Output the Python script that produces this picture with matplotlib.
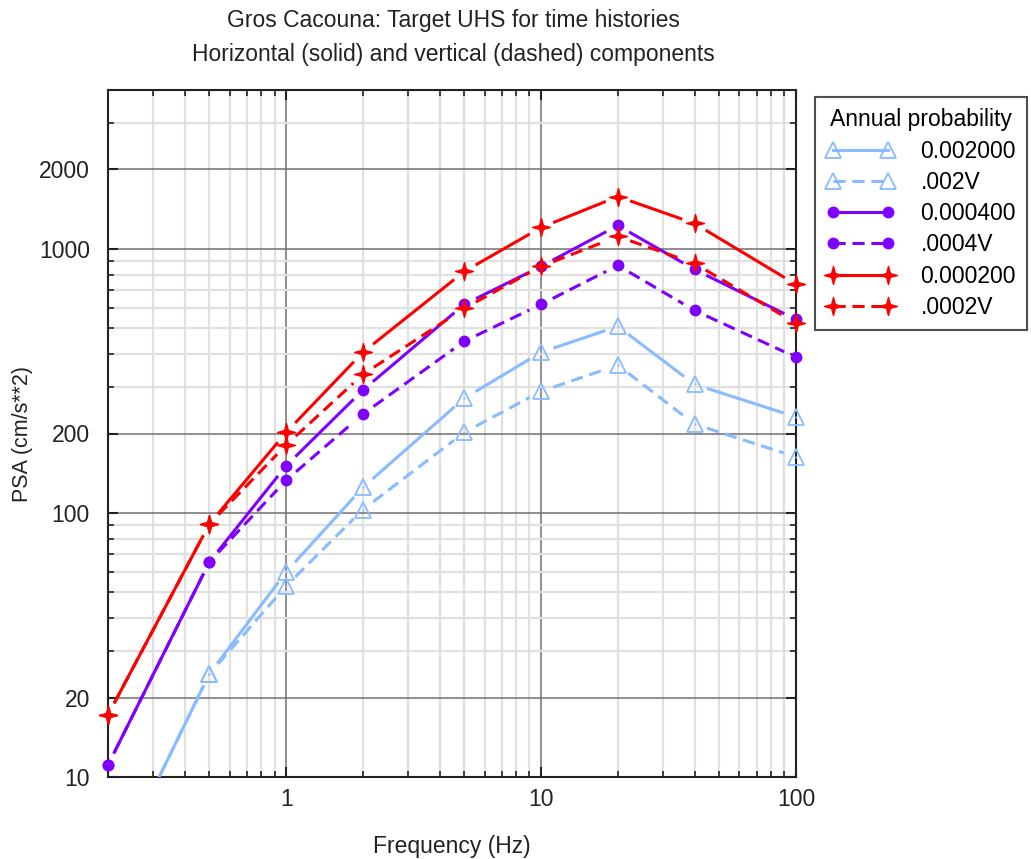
import numpy as np
import matplotlib
matplotlib.use("Agg")
from matplotlib import pyplot as plt
from matplotlib.lines import Line2D
from matplotlib.path import Path
from matplotlib.ticker import FixedLocator, NullFormatter

plt.rcParams['font.family'] = ['Liberation Sans', 'DejaVu Sans']

freq = [0.2, 0.5, 1, 2, 5, 10, 20, 40, 100]

psa_h_002 = [4.0, 24.6, 59.8, 125, 272, 406, 509, 307, 231]
psa_v_002 = [4.0, 24.6, 52.9, 103, 202, 289, 363, 217, 163]
psa_h_0004 = [11.1, 65.3, 151, 292, 617, 859, 1227, 836, 541]
psa_v_0004 = [11.1, 65.3, 133, 237, 447, 617, 866, 585, 389]
psa_h_0002 = [17.2, 90.9, 202, 406, 822, 1206, 1579, 1249, 734]
psa_v_0002 = [17.2, 90.9, 181, 335, 596, 859, 1115, 881, 523]

labels = ["0.002000", ".002V", "0.000400", ".0004V", "0.000200", ".0002V"]

BLUE = "#88bbff"
PURPLE = "#8000ff"
RED = "#ff0000"
TEXT = "#222222"
DASH = (0, (4, 2.2))

# thin four-pointed star for the red series
ang = np.arange(8) * np.pi / 4
rad = np.where(np.arange(8) % 2 == 0, 1.0, 0.3)
star_verts = np.column_stack([rad * np.sin(ang), rad * np.cos(ang)])
STAR = Path(np.vstack([star_verts, star_verts[:1]]), closed=True)

styles = [
    (psa_h_002, BLUE, "-", "^", 12, "none", 1.3),
    (psa_v_002, BLUE, DASH, "^", 12, "none", 1.3),
    (psa_h_0004, PURPLE, "-", "o", 7.5, PURPLE, 1.0),
    (psa_v_0004, PURPLE, DASH, "o", 7.5, PURPLE, 1.0),
    (psa_h_0002, RED, "-", STAR, 13, RED, 1.0),
    (psa_v_0002, RED, DASH, STAR, 13, RED, 1.0),
]

YMIN, YMAX = 10, 4000
XMIN, XMAX = 0.2, 100


def draw_series(ax, x, y, color, ls, marker, ms, mfc, mew, gap=13):
    # line segments stop short of each marker
    pts = ax.transData.transform(np.column_stack([x, y]))
    inv = ax.transData.inverted()
    for p0, p1 in zip(pts[:-1], pts[1:]):
        d = p1 - p0
        u = d / np.hypot(*d)
        seg = inv.transform([p0 + u * gap, p1 - u * gap])
        ax.plot(seg[:, 0], seg[:, 1], color=color, ls=ls, lw=2.2,
                solid_capstyle="butt", dash_capstyle="butt", zorder=3)
    x = np.asarray(x)
    y = np.asarray(y)
    keep = (y >= YMIN) & (y <= YMAX)
    ax.plot(x[keep], y[keep], ls="none", marker=marker, ms=ms, mfc=mfc,
            mec=color, mew=mew, clip_on=False, zorder=4)
    if marker == "^":
        ax.plot(x[keep], y[keep], ls="none", marker="o", ms=1.6, mfc=color,
                mec=color, mew=0, clip_on=False, zorder=4)


fig = plt.figure(figsize=(10.31, 8.59), dpi=100)
ax = fig.add_axes([108 / 1031, 1 - 777 / 859, (796 - 108) / 1031, (777 - 90) / 859])
ax.set_xscale("log")
ax.set_yscale("log")
ax.set_xlim(XMIN, XMAX)
ax.set_ylim(YMIN, YMAX)

ax.xaxis.set_major_locator(FixedLocator([1, 10, 100]))
ax.xaxis.set_minor_locator(FixedLocator(
    [v * 10 ** e for e in (-1, 0, 1) for v in range(2, 10) if 0.2 <= v * 10 ** e <= 100]))
ax.yaxis.set_major_locator(FixedLocator([10, 20, 100, 200, 1000, 2000]))
ax.yaxis.set_minor_locator(FixedLocator(
    [v * 10 ** e for e in (1, 2, 3) for v in range(3, 10) if v * 10 ** e <= 4000]))
ax.set_xticklabels(["1", "10", "100"])
ax.set_yticklabels(["10", "20", "100", "200", "1000", "2000"])
ax.xaxis.set_minor_formatter(NullFormatter())
ax.yaxis.set_minor_formatter(NullFormatter())

ax.grid(which="major", color="#707070", lw=1.1, zorder=1)
ax.grid(which="minor", color="#e0e0e0", lw=1.6, zorder=0)
ax.set_axisbelow(True)
ax.tick_params(which="both", direction="in", top=True, right=True, labelsize=16.5,
               colors=TEXT)
ax.tick_params(which="major", length=7, width=1.5)
ax.tick_params(axis="y", which="major", pad=13)
ax.tick_params(axis="x", which="major", pad=8)
ax.tick_params(which="minor", length=4, width=1.2)
for s in ax.spines.values():
    s.set_linewidth(1.5)
    s.set_color(TEXT)

for (y, color, ls, marker, ms, mfc, mew) in styles:
    draw_series(ax, freq, y, color, ls, marker, ms, mfc, mew)

ax.set_xlabel("Frequency (Hz)", fontsize=16.5, labelpad=17, color=TEXT)
ax.set_ylabel("PSA (cm/s**2)", fontsize=15.5, labelpad=4, color=TEXT)
fig.text(453 / 1031, 1 - 21 / 859, "Gros Cacouna: Target UHS for time histories",
         ha="center", va="center", fontsize=16.5, color=TEXT)
fig.text(453 / 1031, 1 - 54 / 859, "Horizontal (solid) and vertical (dashed) components",
         ha="center", va="center", fontsize=16.5, color=TEXT)

handles = [Line2D([], [], color=c, ls=ls, lw=2.2, marker=m, ms=ms, mfc=mfc,
                  mec=c, mew=mew)
           for (_, c, ls, m, ms, mfc, mew) in styles]
leg = fig.legend(handles, labels, title="Annual probability", loc="upper left",
                 bbox_to_anchor=(815 / 1031, 1 - 97 / 859), numpoints=2,
                 handlelength=3.0, fontsize=16.5, title_fontsize=16.5, frameon=True,
                 fancybox=False, edgecolor=TEXT, borderpad=0.5, borderaxespad=0,
                 labelspacing=0.36, handletextpad=1.1)
leg.get_frame().set_linewidth(1.5)

fig.savefig("out.png", dpi=100)
